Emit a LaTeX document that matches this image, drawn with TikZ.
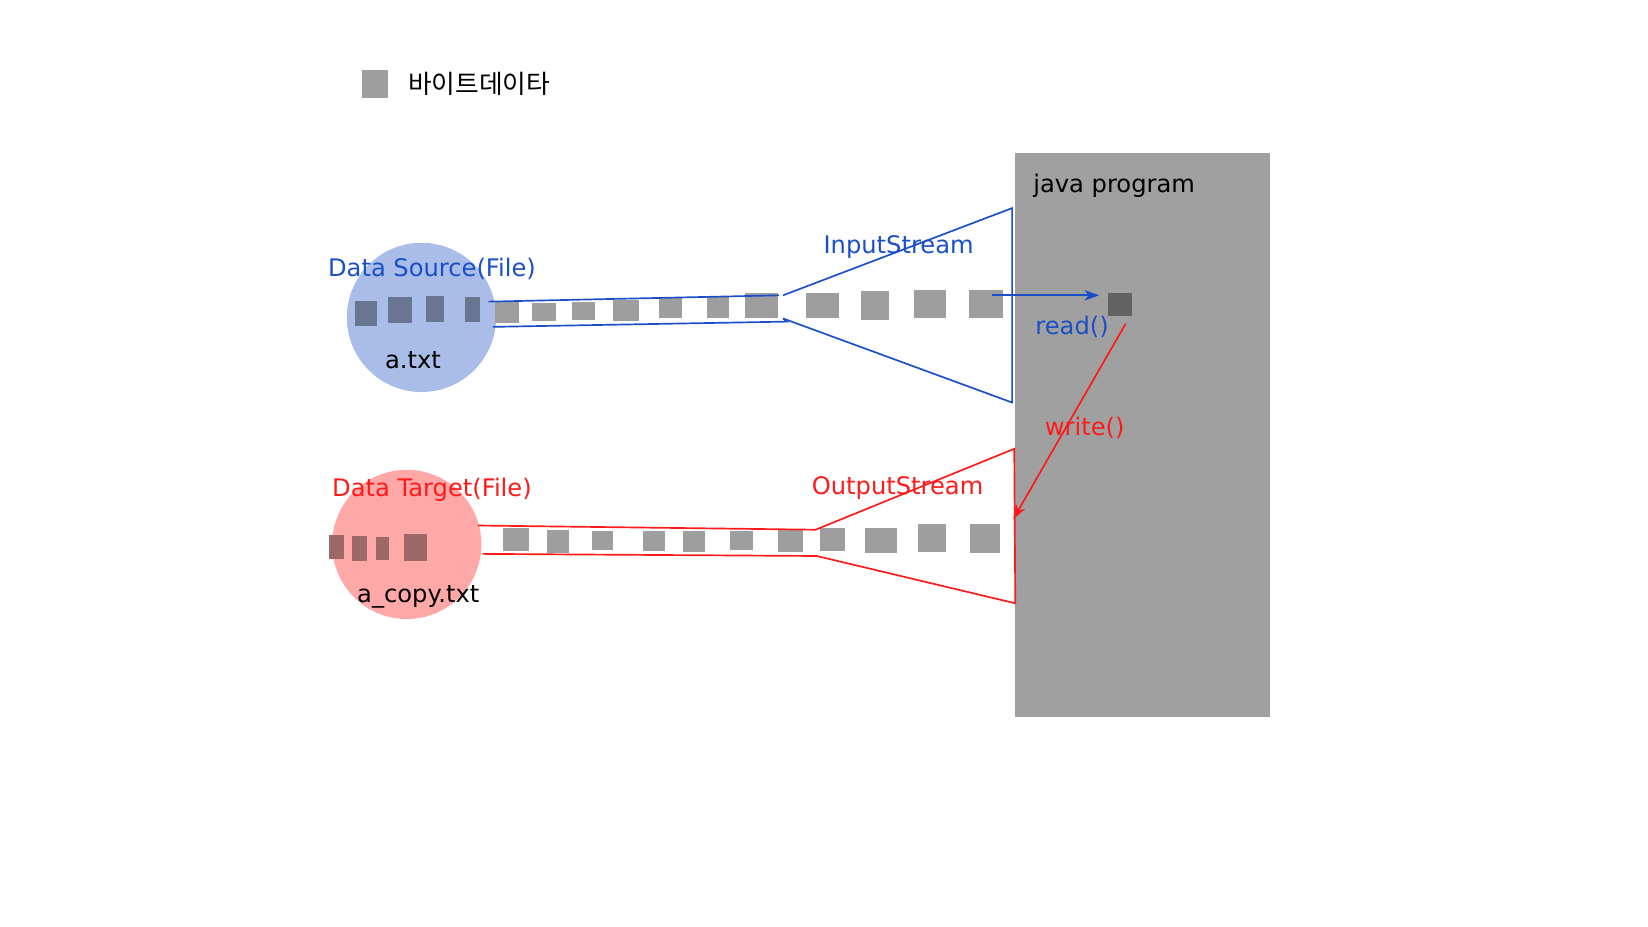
\documentclass[tikz,border=0pt]{standalone}
\usepackage{fontspec}
\setmainfont{DejaVu Sans}
\newfontfamily\krfont{Noto Sans CJK KR}
\usetikzlibrary{arrows.meta}
\definecolor{bytegray}{RGB}{158,158,158}
\definecolor{progdark}{RGB}{98,98,98}
\definecolor{srcblue}{RGB}{169,189,232}
\definecolor{srcdark}{RGB}{104,118,145}
\definecolor{tgtred}{RGB}{255,168,168}
\definecolor{tgtdark}{RGB}{158,104,104}
\definecolor{lineblue}{RGB}{26,79,200}
\definecolor{linered}{RGB}{255,26,26}
\definecolor{progbox}{RGB}{160,160,160}
\tikzset{
  lbl/.style={inner sep=0pt, font=\fontsize{23}{27}\selectfont},
  bluetxt/.style={lbl, text=lineblue},
  redtxt/.style={lbl, text=linered},
  blueline/.style={draw=lineblue, line width=1.6pt},
  redline/.style={draw=linered, line width=1.6pt},
  arr/.style={-{Stealth[length=14pt,width=10pt,inset=4pt]}}
}
\begin{document}
\begin{tikzpicture}[x=1pt,y=-1pt]
\useasboundingbox (0,0) rectangle (1568,882);
% legend
\fill[bytegray] (344,67) rectangle (369,93);
\node[lbl, anchor=west, font=\fontsize{24.5}{28}\selectfont] (legend) at (388,80) {\krfont 바이트데이타};
% java program box
\fill[progbox] (966,146) rectangle (1208,682);
\node[lbl, anchor=west] (java) at (983,176.5) {java program};
\node[fill=progdark, minimum width=23pt, minimum height=22pt, inner sep=0pt] (byteprog) at (1065.5,290) {};
% source circle
\fill[srcblue] (401,302) circle (71);
\node[bluetxt] (srclbl) at (411,255.5) {Data Source(File)};
\node[lbl] (atxt) at (393,342.5) {a.txt};
\foreach \a/\b/\c/\d in {338/286/359/310, 369/283/392/307, 405/282/422/306, 442/283/457/306}
  \fill[srcdark] (\a,\b) rectangle (\c,\d);
\foreach \a/\b/\c/\d in {471/287/494/307, 506/288/529/305, 544/287/566/304, 583/285/608/305, 627/283/649/303, 673/283/694/303, 709/279/740/303, 767/279/798/303, 819/277/846/304, 870/276/900/303, 922/276/954/303}
  \fill[bytegray] (\a,\b) rectangle (\c,\d);
% input stream pipe
\coordinate (iu1) at (465,287);
\coordinate (iu2) at (741,281);
\coordinate (il1) at (469,311);
\coordinate (il2) at (749,306);
\coordinate (if1) at (745,281);
\coordinate (if2) at (963,198);
\coordinate (if3) at (963,383);
\coordinate (if4) at (745,303);
\draw[blueline] (iu1) -- (iu2);
\draw[blueline] (il1) -- (il2) -- (if4);
\draw[blueline] (if1) -- (if2) -- (if3) -- (if4);
\node[bluetxt] (instream) at (855,235.5) {InputStream};
% read arrow
\coordinate (rstart) at (944,281);
\draw[blueline, arr, shorten >=8pt] (rstart) -- (byteprog.west |- rstart);
\node[bluetxt] (readlbl) at (1020,311.5) {read()};
% target circle
\fill[tgtred] (387,518) circle (71);
\node[redtxt] (tgtlbl) at (411,466.5) {Data Target(File)};
\node[lbl] (acopy) at (398,567.5) {a\_copy.txt};
\foreach \a/\b/\c/\d in {313/509/327/532, 335/510/349/534, 358/511/370/533, 384/508/406/534}
  \fill[tgtdark] (\a,\b) rectangle (\c,\d);
\foreach \a/\b/\c/\d in {479/502/503/524, 520/504/541/526, 563/505/583/523, 612/505/633/524, 650/505/671/525, 695/505/716/523, 740/504/764/525, 780/502/804/524, 823/502/853/526, 873/499/900/525, 923/499/951/526}
  \fill[bytegray] (\a,\b) rectangle (\c,\d);
% output stream pipe
\coordinate (ou1) at (455,500);
\coordinate (of1) at (776,504);
\coordinate (of2) at (965,427);
\coordinate (of3) at (966,574);
\coordinate (of4) at (777,529);
\coordinate (ol1) at (459,527);
\draw[redline] (ou1) -- (of1) -- (of2) -- (of3) -- (of4) -- (ol1);
\node[redtxt] (outstream) at (854,464.5) {OutputStream};
% write arrow
\coordinate (wstart) at (1071,308);
\coordinate (wend) at (964,494);
\draw[redline, arr] (wstart) -- (wend);
\node[redtxt] (writelbl) at (1032,407.5) {write()};
\end{tikzpicture}
\end{document}
